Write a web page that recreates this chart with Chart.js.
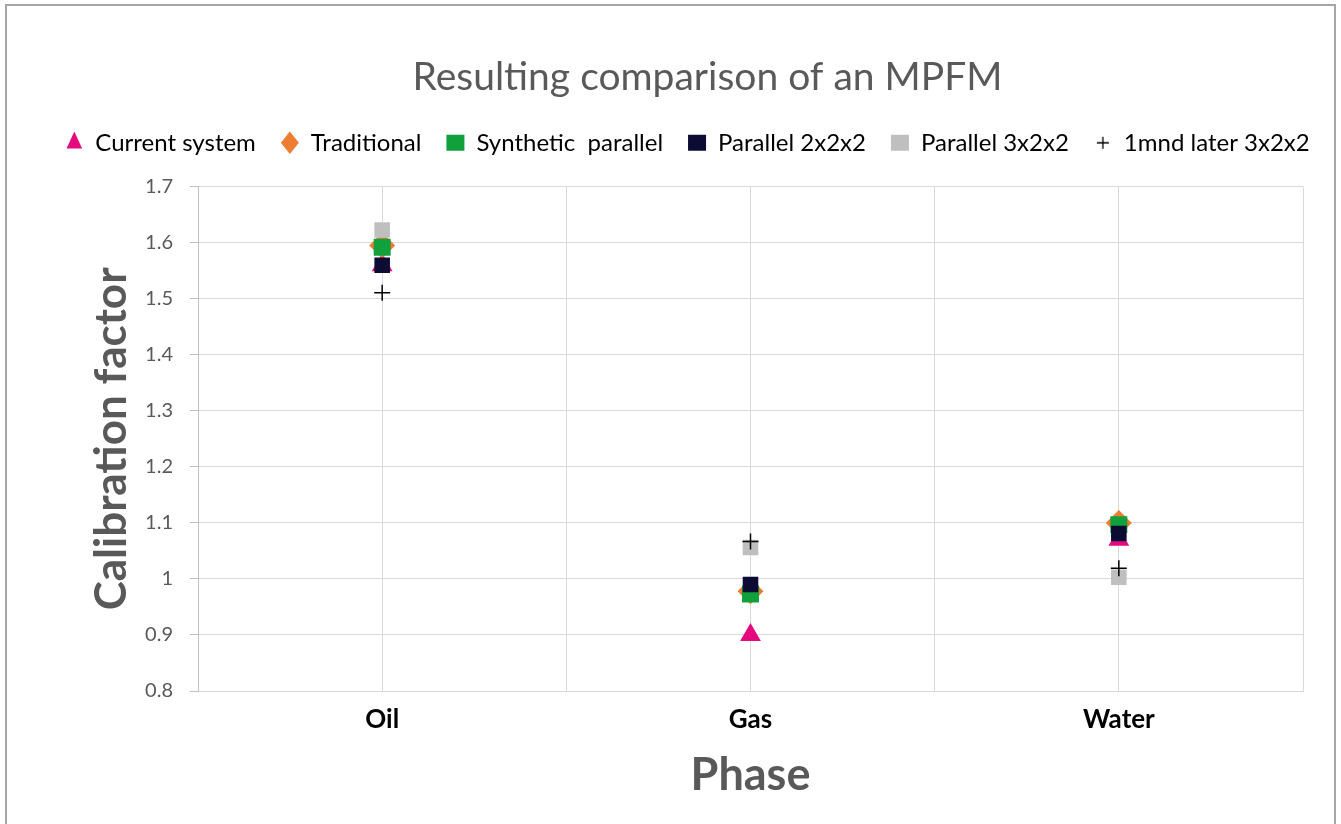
<!DOCTYPE html>
<html>
<head>
<meta charset="utf-8">
<script src="https://cdn.jsdelivr.net/npm/chart.js@4/dist/chart.umd.min.js"></script>
<style>
  html, body { margin: 0; padding: 0; background: #ffffff; }
  #wrap { width: 1341px; height: 824px; }
</style>
</head>
<body>
<div id="wrap"><canvas id="c" width="1341" height="824"></canvas></div>
<script>
// ---- data ----
const categories = ['Oil', 'Gas', 'Water'];
const categoryX = [1, 2, 3];
const seriesNames = ['Current system', 'Traditional', 'Synthetic  parallel', 'Parallel 2x2x2', 'Parallel 3x2x2', '1mnd later 3x2x2'];
const currentSystem   = [1.56, 0.90, 1.07];
const traditional     = [1.595, 0.978, 1.10];
const syntheticPar    = [1.592, 0.973, 1.097];
const parallel222     = [1.56, 0.99, 1.081];
const parallel322     = [1.623, 1.056, 1.003];
const later322        = [1.511, 1.067, 1.019];
const yTickMin = 0.8, yTickMax = 1.7, yTickStep = 0.1;

const seriesValues = [currentSystem, traditional, syntheticPar, parallel222, parallel322, later322];
const styles = [
  { pointStyle: 'triangle', color: '#e4097f', radius: 12 },
  { pointStyle: 'rectRot',  color: '#ed7d31', radius: 13 },
  { pointStyle: 'rect',     color: '#10a03c', radius: 12 },
  { pointStyle: 'rect',     color: '#0b0b33', radius: 11 },
  { pointStyle: 'rect',     color: '#bfbfbf', radius: 11 },
  { pointStyle: 'cross',    color: '#000000', radius: 8 }
];

// small legend marker for the plus series
const plusIcon = document.createElement('canvas');
plusIcon.width = 14; plusIcon.height = 14;
(function () {
  const g = plusIcon.getContext('2d');
  g.strokeStyle = '#000000'; g.lineWidth = 1.3;
  g.beginPath(); g.moveTo(1, 7); g.lineTo(13, 7); g.moveTo(7, 1); g.lineTo(7, 13); g.stroke();
})();

const datasets = seriesNames.map((name, i) => ({
  label: name,
  data: categoryX.map((x, j) => ({ x: x, y: seriesValues[i][j] })),
  pointStyle: styles[i].pointStyle,
  pointRadius: styles[i].radius,
  pointHoverRadius: styles[i].radius,
  backgroundColor: styles[i].color,
  borderColor: styles[i].color,
  pointBorderWidth: styles[i].pointStyle === 'cross' ? 1.5 : 0,
  borderWidth: styles[i].pointStyle === 'cross' ? 1.5 : 0,
  showLine: false,
  order: seriesNames.length - i
}));

const layoutTweaks = {
  id: 'layoutTweaks',
  afterInit(chart) {
    const orig = chart.legend.fit;
    chart.legend.fit = function () { orig.call(this); this.height += 22; };
  },
  afterLayout(chart) {
    chart.titleBlock.left += 56; chart.titleBlock.right += 56;
    chart.legend.left += 36; chart.legend.right += 36;
  }
};

const frame = {
  id: 'frame',
  afterDraw(chart) {
    const ctx = chart.ctx;
    ctx.save();
    ctx.strokeStyle = '#a6a6a6';
    ctx.lineWidth = 2;
    ctx.beginPath();
    ctx.moveTo(6, 824); ctx.lineTo(6, 5); ctx.lineTo(1335, 5); ctx.lineTo(1335, 824);
    ctx.stroke();
    ctx.restore();
  }
};

Chart.defaults.font.family = 'Lato, "Open Sans", sans-serif';

new Chart(document.getElementById('c'), {
  type: 'scatter',
  data: { datasets },
  plugins: [layoutTweaks, frame],
  options: {
    responsive: false,
    devicePixelRatio: 1,
    animation: false,
    layout: { padding: { left: 0, right: 38, top: 0, bottom: 0 } },
    plugins: {
      title: {
        display: true,
        text: 'Resulting comparison of an MPFM',
        color: '#595959',
        font: { size: 39, weight: 'normal' },
        padding: { top: 54, bottom: 5 }
      },
      legend: {
        display: true,
        position: 'top',
        labels: {
          usePointStyle: true,
          boxHeight: 16,
          pointStyleWidth: 18,
          color: '#000000',
          font: { size: 24 },
          padding: 25,
          sort: (a, b) => a.datasetIndex - b.datasetIndex,
          generateLabels: (chart) => {
            const items = Chart.defaults.plugins.legend.labels.generateLabels(chart);
            items.forEach((it) => { if (it.pointStyle === 'cross') it.pointStyle = plusIcon; });
            return items;
          }
        }
      },
      tooltip: { enabled: false }
    },
    scales: {
      x: {
        type: 'linear',
        min: 0.5,
        max: 3.5,
        afterFit: (s) => { s.height = 133; },
        afterBuildTicks: (s) => {
          const t = [];
          for (let v = 0.5; v <= 3.5001; v += 0.5) t.push({ value: +v.toFixed(1) });
          s.ticks = t;
        },
        grid: { color: '#d9d9d9', lineWidth: 1, drawTicks: false },
        border: { color: '#d9d9d9', width: 1 },
        ticks: {
          autoSkip: false,
          maxRotation: 0,
          padding: 13,
          color: '#000000',
          font: { size: 26, weight: 'bold' },
          callback: (v) => {
            const k = categoryX.indexOf(v);
            return k >= 0 ? categories[k] : '';
          }
        },
        title: {
          display: true,
          text: 'Phase',
          color: '#595959',
          font: { size: 45, weight: 'bold' },
          padding: { top: 0, bottom: 22 }
        }
      },
      y: {
        min: yTickMin,
        max: yTickMax,
        afterFit: (s) => { s.width = 198; },
        grid: { color: '#d9d9d9', lineWidth: 1, tickLength: 8, tickColor: '#bfbfbf' },
        border: { color: '#bfbfbf', width: 1 },
        ticks: {
          stepSize: yTickStep,
          padding: 17,
          color: '#595959',
          font: { size: 20 },
          callback: (v) => String(+v.toFixed(2))
        },
        title: {
          display: true,
          text: 'Calibration factor',
          color: '#595959',
          font: { size: 44, weight: 'bold' },
          padding: { top: 85, bottom: 0 }
        }
      }
    }
  }
});
</script>
</body>
</html>
